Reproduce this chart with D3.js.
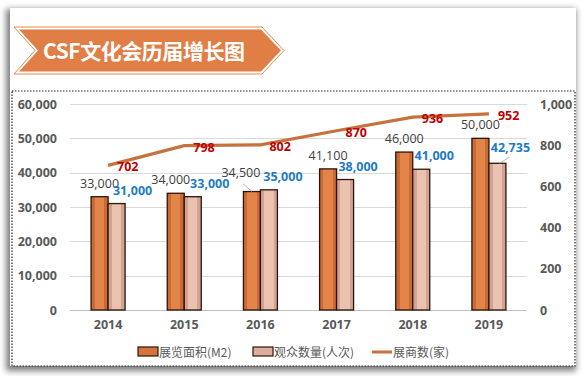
<!DOCTYPE html>
<html>
<head>
<meta charset="utf-8">
<script src="https://cdn.jsdelivr.net/npm/d3@7"></script>
<style>
  html, body { margin: 0; padding: 0; background: #fff; }
  body { width: 587px; height: 376px; position: relative; overflow: hidden; }
  #card {
    position: absolute; left: 10px; top: 8px; width: 566px; height: 358px;
    background: #fff; box-shadow: -2px 3px 6px 2px rgba(0,0,0,0.5);
  }
  #chart { position: absolute; left: 0; top: 0; }
  text { font-family: "Open Sans", "Noto Sans CJK SC", sans-serif; }
</style>
</head>
<body>
<div id="card"></div>
<div id="chart"></div>
<script>
// data
let years = ["2014", "2015", "2016", "2017", "2018", "2019"];
let area = [33000, 34000, 34500, 41100, 46000, 50000];       // 展览面积(M2)
let visitors = [31000, 33000, 35000, 38000, 41000, 42735];   // 观众数量(人次)
let exhibitors = [702, 798, 802, 870, 936, 952];             // 展商数(家)
let leftTicks = [0, 10000, 20000, 30000, 40000, 50000, 60000];
let rightTicks = [0, 200, 400, 600, 800, 1000];
let seriesNames = ["展览面积(M2)", "观众数量(人次)", "展商数(家)"];

let svg = d3.select("#chart")
              .append("svg")
                .attr("width", 587)
                .attr("height", 376)
;

let defs = svg.append("defs");
function grad(id, edge, mid) {
  let g = defs.append("linearGradient").attr("id", id)
      .attr("x1", "0%").attr("x2", "100%").attr("y1", "0%").attr("y2", "0%");
  g.append("stop").attr("offset", "0%").attr("stop-color", edge);
  g.append("stop").attr("offset", "22%").attr("stop-color", edge);
  g.append("stop").attr("offset", "23%").attr("stop-color", mid);
  g.append("stop").attr("offset", "77%").attr("stop-color", mid);
  g.append("stop").attr("offset", "78%").attr("stop-color", edge);
  g.append("stop").attr("offset", "100%").attr("stop-color", edge);
}
grad("g1", "#CB6A32", "#E3854A");
grad("g2", "#D2A292", "#EBC1B0");

// title banner
let outer = [[14, 27], [262, 27], [284, 50.5], [262, 74], [14, 74], [35, 50.5]];
let inner = [[19, 29.5], [261, 29.5], [281, 50.5], [261, 71.5], [19, 71.5], [38, 50.5]];
svg.append("polygon")
    .attr("points", outer.map(p => p.join(",")).join(" "))
    .attr("fill", "#fff").attr("stroke", "#E5894F").attr("stroke-width", 1);
svg.append("polygon")
    .attr("points", inner.map(p => p.join(",")).join(" "))
    .attr("fill", "#E07E45");
svg.append("text")
    .attr("x", 43).attr("y", 58.5)
    .attr("fill", "#fff")
    .attr("font-size", 21).attr("font-weight", "bold")
    .style("font-family", "'Noto Sans CJK SC', sans-serif")
    .attr("textLength", 202)
    .text("CSF文化会历届增长图");

// dotted frame
svg.append("rect")
    .attr("x", 12).attr("y", 91).attr("width", 563).attr("height", 275)
    .attr("fill", "none").attr("stroke", "#222").attr("stroke-width", 1.2)
    .attr("stroke-dasharray", "1.5,1.5");

// scales
let x = d3.scaleBand().domain(years).range([70, 527]);
let yL = d3.scaleLinear().domain([0, 60000]).range([310, 104]);
let yR = d3.scaleLinear().domain([0, 1000]).range([310, 104]);
let barW = 17;

// gridlines
svg.append("g").selectAll("line")
    .data(leftTicks)
    .join("line")
      .attr("x1", 70).attr("x2", 527)
      .attr("y1", d => Math.round(yL(d)) + 0.5).attr("y2", d => Math.round(yL(d)) + 0.5)
      .attr("stroke", d => d == 0 ? "#BFBFBF" : "#D9D9D9").attr("stroke-width", 1);

// axes
let fmt = d3.format(",");
let axL = svg.append("g").attr("transform", "translate(63,0)")
    .call(d3.axisLeft(yL).tickValues(leftTicks).tickFormat(fmt).tickSize(0).tickPadding(6));
let axR = svg.append("g").attr("transform", "translate(534,0)")
    .call(d3.axisRight(yR).tickValues(rightTicks).tickSize(0).tickPadding(6));
let axB = svg.append("g").attr("transform", "translate(0,316)")
    .call(d3.axisBottom(x).tickSize(0).tickPadding(4));
[axL, axR, axB].forEach(function(a) {
  a.select(".domain").remove();
  a.selectAll("text")
      .attr("fill", "#595959")
      .attr("font-size", 12.5)
      .attr("font-weight", "bold")
      .style("font-family", "'Open Sans', sans-serif");
});

// bars
svg.append("g").selectAll("rect")
    .data(years)
    .join("rect")
      .attr("x", (d, i) => x(d) + x.bandwidth() / 2 - barW)
      .attr("y", (d, i) => yL(area[i]))
      .attr("width", barW)
      .attr("height", (d, i) => yL(0) - yL(area[i]))
      .attr("fill", "url(#g1)")
      .attr("stroke", "#2b150a").attr("stroke-width", 1.3);
svg.append("g").selectAll("rect")
    .data(years)
    .join("rect")
      .attr("x", (d, i) => x(d) + x.bandwidth() / 2)
      .attr("y", (d, i) => yL(visitors[i]))
      .attr("width", barW)
      .attr("height", (d, i) => yL(0) - yL(visitors[i]))
      .attr("fill", "url(#g2)")
      .attr("stroke", "#2b150a").attr("stroke-width", 1.3);

// line
let line = d3.line()
    .x((d, i) => x(years[i]) + x.bandwidth() / 2)
    .y(d => yR(d));
svg.append("path")
    .attr("d", line(exhibitors))
    .attr("fill", "none")
    .attr("stroke", "#C5723F")
    .attr("stroke-width", 3.2);

// bar labels
let areaDx = [0, -5, -11, 0, 0, 0];
let areaDy = [0, 0, -6, 0, 0, 0];
svg.append("g").selectAll("text")
    .data(area)
    .join("text")
      .attr("x", (d, i) => x(years[i]) + x.bandwidth() / 2 - barW / 2 + areaDx[i])
      .attr("y", (d, i) => yL(d) - 9 + areaDy[i])
      .attr("text-anchor", "middle")
      .attr("fill", "#404040")
      .attr("font-size", 12.5)
      .text(d => fmt(d));
// leader line for 34,500
svg.append("line")
    .attr("x1", x("2016") + x.bandwidth() / 2 - barW / 2 - 9).attr("y1", yL(34500) - 8)
    .attr("x2", x("2016") + x.bandwidth() / 2 - barW / 2).attr("y2", yL(34500))
    .attr("stroke", "#A6A6A6").attr("stroke-width", 0.8);

let visDx = [16, 17, 14, 13, 13, 13];
let visDy = [0, 0, 0, 0, 0, -1];
svg.append("g").selectAll("text")
    .data(visitors)
    .join("text")
      .attr("x", (d, i) => x(years[i]) + x.bandwidth() / 2 + barW / 2 + visDx[i])
      .attr("y", (d, i) => i == 5 ? yL(d) - 11 : yL(d) - 9 + visDy[i])
      .attr("text-anchor", "middle")
      .attr("fill", "#1F7BC1")
      .attr("font-size", 12.5)
      .attr("font-weight", "bold")
      .text(d => fmt(d));
// leader line for 42,735
svg.append("line")
    .attr("x1", x("2019") + x.bandwidth() / 2 + barW / 2 + 2).attr("y1", yL(42735))
    .attr("x2", x("2019") + x.bandwidth() / 2 + barW / 2 + 12).attr("y2", yL(42735) - 6)
    .attr("stroke", "#A6A6A6").attr("stroke-width", 0.8);

// line labels
svg.append("g").selectAll("text")
    .data(exhibitors)
    .join("text")
      .attr("x", (d, i) => x(years[i]) + x.bandwidth() / 2 + 9)
      .attr("y", d => yR(d) + 6)
      .attr("fill", "#C00000")
      .attr("font-size", 12.5)
      .attr("font-weight", "bold")
      .text(d => d);

// legend
let legend = svg.append("g").attr("transform", "translate(0,352)");
let lx = [138, 253, 372];
legend.append("rect").attr("x", lx[0]).attr("y", -5).attr("width", 20).attr("height", 9)
    .attr("fill", "#D5743B").attr("stroke", "#2b150a").attr("stroke-width", 1.2);
legend.append("rect").attr("x", lx[1]).attr("y", -5).attr("width", 20).attr("height", 9)
    .attr("fill", "#DDAE9D").attr("stroke", "#2b150a").attr("stroke-width", 1.2);
legend.append("line").attr("x1", lx[2]).attr("x2", lx[2] + 20).attr("y1", 0).attr("y2", 0)
    .attr("stroke", "#C5723F").attr("stroke-width", 3);
legend.selectAll("text")
    .data(seriesNames)
    .join("text")
      .attr("x", (d, i) => lx[i] + 21)
      .attr("y", 4.5)
      .attr("fill", "#595959")
      .attr("font-size", 12)
      .style("font-family", "'Noto Sans CJK SC', sans-serif")
      .text(d => d);
</script>
</body>
</html>
